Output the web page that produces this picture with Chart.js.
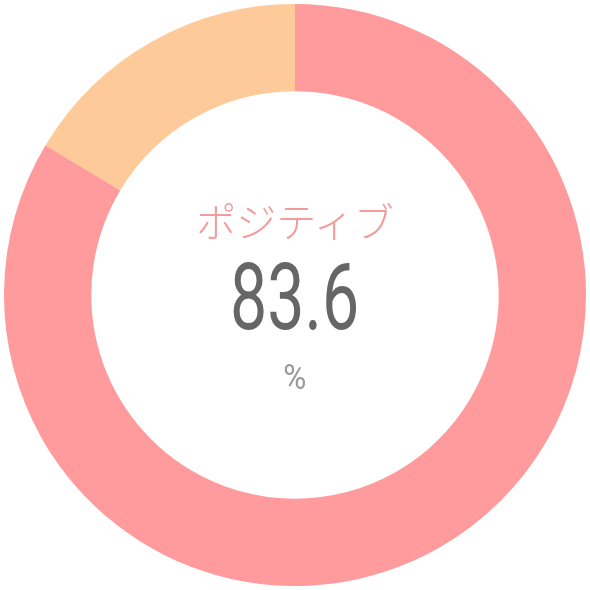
<!DOCTYPE html>
<html><head><meta charset="utf-8">
<script src="https://cdn.jsdelivr.net/npm/chart.js@4"></script>
<style>
html,body{margin:0;padding:0;background:#fff;}
#wrap{position:relative;width:590px;height:590px;}
#c{position:absolute;left:0;top:0;}
.t{position:absolute;left:0;width:590px;text-align:center;white-space:nowrap;}
#lab{top:195px;font-family:"Noto Sans CJK JP";font-weight:300;font-size:40px;color:#f29c9c;line-height:50px;}
#val{top:248px;font-family:Roboto;font-weight:400;font-size:92px;color:#666;line-height:100px;}
#val span{display:inline-block;transform:scaleX(0.72);}
#unit span{display:inline-block;transform:scaleX(0.9);}
#unit{top:356px;font-family:Roboto;font-weight:400;font-size:35px;color:#999;line-height:44px;}
</style></head>
<body><div id="wrap"><canvas id="c" width="590" height="590"></canvas>
<div class="t" id="lab"></div>
<div class="t" id="val"><span></span></div>
<div class="t" id="unit"><span></span></div>
</div>
<script>
const categories = ["ポジティブ", "その他"];
const values = [83.6, 16.4];
const colors = ["#ff9b9c", "#ffca99"];
const centerLabel = "ポジティブ";
const centerValue = "83.6";
const centerUnit = "%";

document.getElementById('lab').textContent = centerLabel;
document.querySelector('#val span').textContent = centerValue;
document.querySelector('#unit span').textContent = centerUnit;

new Chart(document.getElementById('c'), {
  type: 'doughnut',
  data: { labels: categories, datasets: [{ data: values, backgroundColor: colors, borderWidth: 0 }] },
  options: {
    responsive: false, animation: false, cutout: '70%',
    layout: { padding: 4 },
    plugins: { legend: { display: false }, tooltip: { enabled: false } }
  }
});
</script></body></html>
